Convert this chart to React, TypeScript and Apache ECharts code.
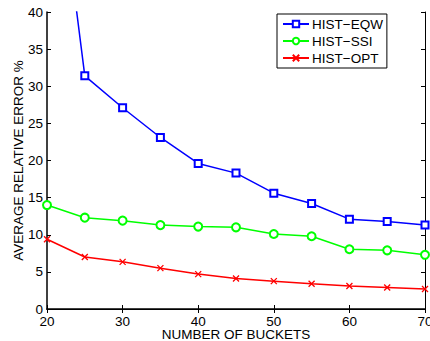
import { useEffect, useRef } from "react";
import * as echarts from "echarts";

// Number of buckets on the x axis
const buckets = [20, 25, 30, 35, 40, 45, 50, 55, 60, 65, 70];
// Average relative error (%) for each histogram method
const eqw = [71.6, 31.4, 27.1, 23.1, 19.6, 18.3, 15.6, 14.2, 12.1, 11.8, 11.3];
const ssi = [14.0, 12.3, 11.9, 11.3, 11.1, 11.0, 10.1, 9.8, 8.05, 7.9, 7.3];
const opt = [9.4, 7.0, 6.35, 5.5, 4.7, 4.1, 3.75, 3.4, 3.1, 2.9, 2.7];

const seriesNames = ["HIST−EQW", "HIST−SSI", "HIST−OPT"];
const FONT = "'Liberation Sans', Arial, Helvetica, sans-serif";

const pairs = (ys: number[]) => buckets.map((x, i) => [x, ys[i]]);

export default function App() {
  const ref = useRef<HTMLDivElement>(null);

  useEffect(() => {
    if (!ref.current) return;
    const chart = echarts.init(ref.current, undefined, { renderer: "svg" });

    const tickStyle = { inside: true, length: 4, lineStyle: { color: "#000", width: 1 } };

    chart.setOption({
      animation: false,
      backgroundColor: "#fff",
      textStyle: { fontFamily: FONT },
      grid: { left: 47, top: 12, right: 5, bottom: 32, outerBoundsMode: "none", containLabel: false },
      legend: {
        left: 277,
        top: 14,
        orient: "vertical",
        backgroundColor: "#fff",
        borderColor: "#000",
        borderWidth: 1,
        borderRadius: 0,
        padding: [3, 4, 3, 5],
        itemWidth: 26,
        itemHeight: 8,
        itemGap: 3,
        textStyle: { fontFamily: FONT, fontSize: 13.5, color: "#000", lineHeight: 14, padding: [0, 0, 0, -2] },
        data: seriesNames,
      },
      xAxis: [
        {
          type: "value",
          min: 20,
          max: 70,
          interval: 10,
          name: "NUMBER OF BUCKETS",
          nameLocation: "middle",
          nameGap: 19.5,
          nameMoveOverlap: false,
          nameTextStyle: { fontFamily: FONT, fontSize: 13.5, color: "#000", lineHeight: 11 },
          axisLine: { show: true, lineStyle: { color: "#000", width: 1.5 } },
          axisTick: tickStyle,
          axisLabel: { fontFamily: FONT, fontSize: 13.5, color: "#000", margin: 6.5, lineHeight: 11 },
          splitLine: { show: false },
        },
        {
          type: "value",
          position: "top",
          min: 20,
          max: 70,
          interval: 10,
          axisLine: { show: true, lineStyle: { color: "#000", width: 1 } },
          axisTick: tickStyle,
          axisLabel: { show: false },
          splitLine: { show: false },
        },
      ],
      yAxis: [
        {
          type: "value",
          min: 0,
          max: 40,
          interval: 5,
          name: "AVERAGE RELATIVE ERROR %",
          nameLocation: "middle",
          nameGap: 22,
          nameMoveOverlap: false,
          nameTextStyle: { fontFamily: FONT, fontSize: 13.5, color: "#000" },
          axisLine: { show: true, lineStyle: { color: "#000", width: 1.5 } },
          axisTick: tickStyle,
          axisLabel: { fontFamily: FONT, fontSize: 13.5, color: "#000", margin: 4 },
          splitLine: { show: false },
        },
        {
          type: "value",
          position: "right",
          min: 0,
          max: 40,
          interval: 5,
          axisLine: { show: true, lineStyle: { color: "#000", width: 1 } },
          axisTick: tickStyle,
          axisLabel: { show: false },
          splitLine: { show: false },
        },
      ],
      series: [
        {
          name: seriesNames[0],
          type: "line",
          data: pairs(eqw),
          clip: true,
          symbol: "emptyRect",
          symbolSize: 7,
          color: "#0000ff",
          lineStyle: { color: "#0000ff", width: 1.5 },
          itemStyle: { color: "#0000ff", borderColor: "#0000ff", borderWidth: 1.3 },
        },
        {
          name: seriesNames[1],
          type: "line",
          data: pairs(ssi),
          clip: true,
          symbol: "emptyCircle",
          symbolSize: 8,
          color: "#00ff00",
          lineStyle: { color: "#00ff00", width: 1.5 },
          itemStyle: { color: "#00ff00", borderColor: "#00ff00", borderWidth: 1.3 },
        },
        {
          name: seriesNames[2],
          type: "line",
          data: pairs(opt),
          clip: true,
          symbol: "path://M0,0L10,10M10,0L0,10",
          symbolSize: 6,
          color: "#ff0000",
          lineStyle: { color: "#ff0000", width: 1.5 },
          itemStyle: { color: "#ff0000", borderColor: "#ff0000", borderWidth: 1.3 },
        },
      ],
    });

    return () => chart.dispose();
  }, []);

  return (
    <div
      ref={ref}
      style={{ position: "fixed", left: 0, top: 0, width: 430, height: 341 }}
    />
  );
}
